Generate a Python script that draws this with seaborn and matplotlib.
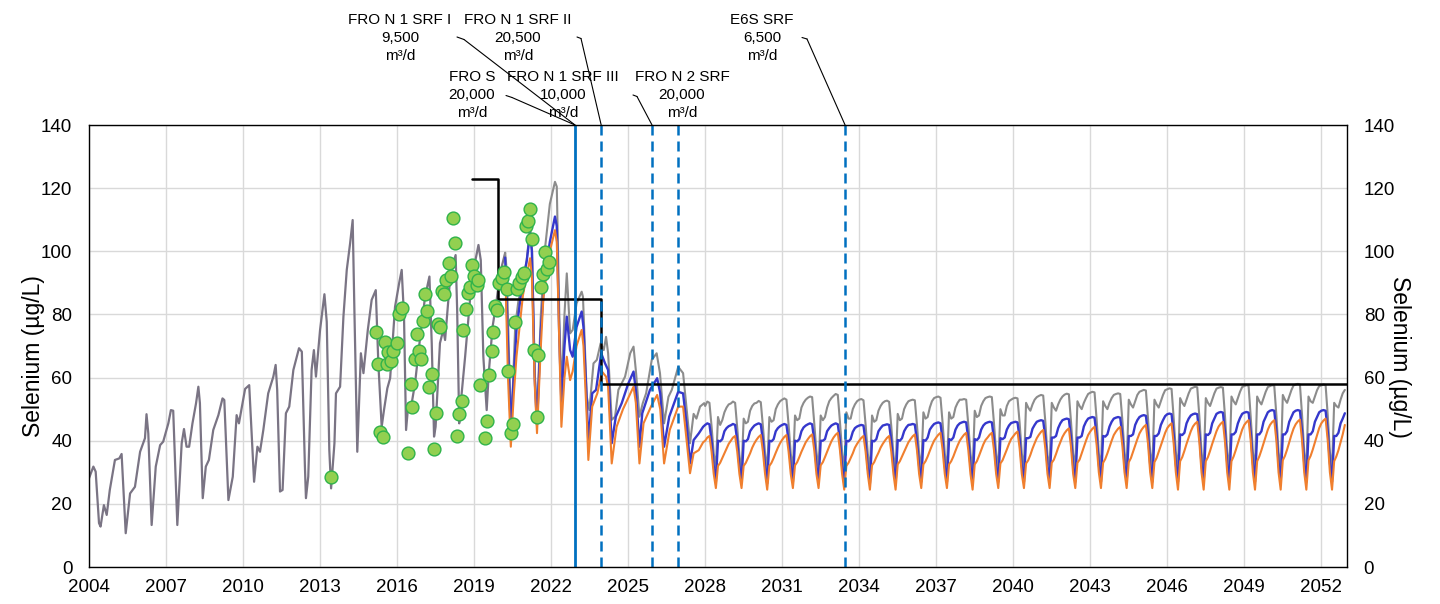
import numpy as np
import pandas as pd
import matplotlib
matplotlib.use('Agg')
import matplotlib.pyplot as plt
import seaborn as sns
from matplotlib.lines import Line2D

# 実測に合わせたモデル (2004-2020)
hist_year = [2004.00, 2004.17, 2004.26, 2004.39, 2004.45, 2004.58, 2004.69, 2004.81, 2005.01, 2005.18,
             2005.27, 2005.43, 2005.60, 2005.79, 2005.99, 2006.18, 2006.24, 2006.31, 2006.44, 2006.60,
             2006.77, 2006.89, 2007.09, 2007.19, 2007.28, 2007.44, 2007.61, 2007.70, 2007.80, 2007.90,
             2008.03, 2008.17, 2008.26, 2008.32, 2008.43, 2008.55, 2008.67, 2008.84, 2009.04, 2009.20,
             2009.27, 2009.43, 2009.60, 2009.75, 2009.84, 2010.08, 2010.24, 2010.43, 2010.56, 2010.66,
             2010.79, 2010.98, 2011.18, 2011.27, 2011.33, 2011.44, 2011.54, 2011.67, 2011.80, 2011.96,
             2012.18, 2012.29, 2012.41, 2012.45, 2012.54, 2012.67, 2012.76, 2012.84, 2013.00, 2013.17,
             2013.26, 2013.36, 2013.43, 2013.56, 2013.62, 2013.78, 2013.91, 2014.04, 2014.17, 2014.27,
             2014.34, 2014.45, 2014.59, 2014.69, 2014.86, 2015.01, 2015.17, 2015.27, 2015.40, 2015.49,
             2015.62, 2015.73, 2015.92, 2016.08, 2016.18, 2016.27, 2016.35, 2016.44, 2016.57, 2016.70,
             2016.90, 2017.09, 2017.26, 2017.35, 2017.44, 2017.50, 2017.67, 2017.80, 2017.87, 2018.06,
             2018.19, 2018.28, 2018.34, 2018.42, 2018.48, 2018.65, 2018.84, 2019.00, 2019.17, 2019.26,
             2019.36, 2019.49, 2019.57, 2019.72, 2019.88, 2020.01, 2020.21]
hist_se = [28.1, 31.8, 30.2, 13.9, 12.8, 19.6, 16.5, 24.4, 33.9, 34.4,
           35.8, 10.7, 23.3, 25.4, 36.5, 40.8, 48.4, 42.3, 13.3, 31.8,
           38.6, 39.7, 45.5, 49.7, 49.5, 13.3, 39.2, 43.7, 38.1, 38.1,
           45.5, 51.9, 57.1, 51.9, 21.8, 31.8, 33.9, 43.4, 48.1, 53.4,
           52.9, 21.2, 28.6, 48.1, 45.5, 56.4, 57.6, 27.0, 38.1, 36.5,
           43.4, 55.0, 60.3, 64.0, 56.1, 23.9, 24.4, 48.7, 50.8, 62.4,
           69.3, 68.2, 31.8, 21.8, 28.6, 62.4, 68.7, 60.3, 75.1, 86.4,
           77.7, 37.1, 24.9, 39.2, 55.0, 57.1, 79.3, 94.1, 102.5, 109.9,
           80.3, 36.5, 67.7, 61.4, 75.1, 84.6, 87.7, 64.5, 44.4, 49.7,
           56.6, 59.8, 82.4, 89.9, 94.1, 79.3, 43.4, 51.9, 51.9, 58.2,
           72.9, 85.6, 92.0, 70.9, 41.3, 44.4, 70.9, 75.1, 71.9, 90.9,
           96.2, 98.8, 81.4, 45.5, 51.9, 66.6, 84.6, 95.1, 102.0, 97.2,
           66.6, 49.7, 61.4, 76.1, 84.6, 93.0, 99.5]

# 予測 (2020-2027) : グレー / 青 / オレンジ
gray_year = [2020.21, 2020.27, 2020.40, 2020.46, 2020.60, 2020.73, 2020.85, 2021.05, 2021.18, 2021.26,
             2021.36, 2021.45, 2021.60, 2021.75, 2021.95, 2022.15, 2022.22, 2022.32, 2022.40, 2022.52,
             2022.61, 2022.74, 2022.84, 2022.99, 2023.19, 2023.24, 2023.39, 2023.49, 2023.65, 2023.78,
             2023.93, 2024.05, 2024.14, 2024.22, 2024.36, 2024.49, 2024.62, 2024.88, 2025.08, 2025.21,
             2025.31, 2025.44, 2025.57, 2025.70, 2025.92, 2026.11, 2026.24, 2026.40, 2026.57, 2026.70,
             2026.95, 2027.14, 2027.27, 2027.41, 2027.55, 2027.66, 2027.80, 2027.96]
gray_se = [99.5, 94.0, 55.0, 46.6, 76.1, 84.6, 88.0, 97.2, 108.0, 100.0,
           62.0, 47.6, 80.0, 100.0, 115.0, 122.0, 120.5, 79.3, 55.0, 80.0,
           93.0, 74.0, 75.1, 83.5, 87.2, 85.6, 53.9, 49.7, 64.5, 65.6,
           70.9, 68.7, 72.9, 67.7, 46.6, 47.6, 56.1, 60.3, 67.7, 69.8,
           61.4, 47.6, 51.9, 55.0, 65.6, 67.7, 61.4, 45.5, 53.9, 56.1,
           63.4, 61.4, 50.8, 39.2, 48.5, 47.0, 50.8, 51.9]

blue_year = [2020.21, 2020.40, 2020.44, 2020.65, 2020.85, 2021.05, 2021.18, 2021.25, 2021.36, 2021.45,
             2021.60, 2021.75, 2021.95, 2022.15, 2022.22, 2022.32, 2022.40, 2022.52, 2022.61, 2022.74,
             2022.84, 2022.99, 2023.19, 2023.26, 2023.40, 2023.45, 2023.60, 2023.75, 2023.95, 2024.10,
             2024.22, 2024.36, 2024.52, 2024.75, 2025.00, 2025.21, 2025.30, 2025.44, 2025.55, 2025.85,
             2026.13, 2026.25, 2026.40, 2026.60, 2026.95, 2027.14, 2027.28, 2027.41, 2027.55, 2027.75,
             2027.92]
blue_se = [98.0, 50.0, 45.5, 75.0, 88.0, 97.0, 105.7, 100.0, 60.0, 45.0,
           75.0, 92.0, 103.0, 111.0, 108.0, 72.0, 52.0, 70.0, 79.3, 68.7,
           66.6, 76.0, 80.9, 76.0, 50.0, 39.2, 55.0, 56.1, 67.7, 64.5,
           62.4, 39.2, 47.6, 51.9, 58.0, 61.9, 56.0, 38.1, 48.7, 56.1,
           59.8, 55.0, 38.1, 47.6, 55.5, 55.0, 45.0, 32.8, 40.2, 42.3,
           44.4]

orange_year = [2020.21, 2020.32, 2020.43, 2020.55, 2020.65, 2020.90, 2021.18, 2021.25, 2021.36, 2021.45,
               2021.60, 2021.70, 2021.95, 2022.15, 2022.22, 2022.32, 2022.40, 2022.52, 2022.61, 2022.74,
               2022.84, 2022.99, 2023.19, 2023.26, 2023.40, 2023.45, 2023.60, 2023.80, 2023.98, 2024.14,
               2024.22, 2024.36, 2024.55, 2024.80, 2025.21, 2025.30, 2025.44, 2025.60, 2025.90, 2026.13,
               2026.25, 2026.40, 2026.62, 2026.95, 2027.14, 2027.28, 2027.41, 2027.55, 2027.75, 2027.92]
orange_se = [95.0, 60.0, 38.1, 55.0, 66.6, 86.0, 97.8, 92.0, 58.0, 42.4,
             70.0, 85.6, 100.0, 106.7, 103.0, 70.0, 44.4, 60.0, 66.6, 59.2,
             62.0, 70.0, 75.1, 70.0, 45.0, 33.9, 50.8, 55.0, 61.9, 60.3,
             57.0, 32.8, 44.4, 50.0, 57.1, 52.0, 32.8, 45.5, 51.0, 54.5,
             50.0, 32.8, 43.4, 50.8, 50.8, 40.0, 29.7, 36.0, 37.0, 39.5]

# 2028-2052 の月別値 (1月-12月)
fut_years = list(range(2028, 2053))
gray_month = [
    [51.0, 52.4, 52.0, 44.5, 36.0, 31.5, 47.5, 45.0, 46.5, 49.0, 50.5, 51.5],
    [51.8, 52.4, 52.0, 44.0, 35.5, 30.5, 47.0, 45.5, 46.0, 49.5, 51.0, 51.8],
    [52.0, 52.6, 52.2, 44.5, 36.0, 30.8, 47.5, 46.0, 46.5, 50.0, 51.5, 52.5],
    [53.0, 53.4, 53.0, 45.0, 36.0, 31.0, 48.0, 46.5, 47.0, 50.5, 52.0, 53.0],
    [53.6, 54.0, 53.8, 45.5, 36.5, 31.0, 48.0, 46.5, 47.5, 50.5, 52.5, 53.5],
    [54.2, 54.8, 54.5, 46.0, 36.5, 30.5, 49.0, 47.0, 47.0, 50.0, 51.5, 52.5],
    [53.0, 53.2, 52.8, 45.0, 36.0, 30.5, 48.0, 46.0, 46.5, 49.5, 51.0, 52.0],
    [52.5, 52.7, 52.3, 44.5, 35.5, 30.5, 48.5, 46.5, 47.0, 50.0, 51.5, 52.5],
    [52.8, 53.0, 52.8, 45.0, 36.0, 31.0, 49.0, 47.0, 47.5, 50.5, 52.5, 53.5],
    [53.8, 54.0, 53.6, 45.5, 36.0, 31.0, 49.0, 47.0, 47.5, 50.5, 52.0, 53.0],
    [53.0, 53.2, 53.0, 45.0, 36.0, 30.5, 49.5, 47.5, 48.0, 51.0, 52.5, 53.5],
    [53.8, 54.0, 53.8, 45.5, 36.0, 31.0, 50.0, 48.0, 48.0, 51.0, 52.5, 53.0],
    [53.4, 53.6, 53.4, 45.5, 36.0, 31.5, 52.0, 50.5, 49.5, 51.5, 53.0, 53.8],
    [54.2, 54.5, 54.3, 46.0, 35.5, 31.5, 52.0, 50.5, 49.5, 51.5, 53.0, 54.0],
    [54.6, 54.9, 54.7, 46.0, 36.0, 31.5, 52.5, 51.0, 50.0, 52.0, 53.5, 54.8],
    [55.2, 55.5, 55.3, 46.5, 36.0, 31.5, 52.5, 51.0, 50.0, 52.0, 53.5, 54.5],
    [54.8, 55.0, 54.8, 46.5, 36.5, 31.5, 53.0, 51.5, 50.5, 52.5, 54.5, 55.5],
    [55.8, 56.1, 55.9, 47.0, 36.5, 31.5, 53.0, 51.5, 50.5, 52.5, 54.5, 56.0],
    [56.3, 56.6, 56.4, 47.0, 36.5, 31.0, 53.5, 52.0, 51.0, 53.0, 55.0, 56.5],
    [56.8, 57.1, 56.9, 47.5, 36.5, 31.0, 53.5, 52.0, 51.0, 53.0, 55.0, 56.5],
    [56.8, 57.0, 56.8, 47.5, 36.5, 31.0, 54.0, 52.5, 51.5, 53.5, 55.5, 57.0],
    [57.3, 57.6, 57.4, 47.5, 36.5, 31.0, 54.0, 52.5, 51.5, 53.5, 55.5, 57.0],
    [57.3, 57.6, 57.4, 48.0, 36.5, 31.0, 54.5, 53.0, 52.0, 54.0, 56.0, 57.5],
    [57.8, 58.0, 57.8, 48.0, 36.5, 31.0, 54.0, 52.5, 52.0, 54.0, 56.0, 57.3],
    [57.5, 57.8, 57.6, 48.0, 36.5, 31.0, 52.0, 51.0, 50.5, 53.0, 55.0, 56.1],
]
blue_month = [
    [45.0, 45.5, 45.2, 40.0, 32.0, 27.0, 40.0, 39.8, 40.5, 43.0, 44.0, 44.6],
    [44.9, 45.3, 45.0, 40.0, 32.0, 27.0, 40.0, 39.8, 40.5, 43.0, 44.0, 44.8],
    [45.2, 45.5, 45.2, 40.0, 32.0, 26.5, 40.0, 39.8, 40.5, 43.0, 44.0, 44.6],
    [45.0, 45.3, 45.0, 40.0, 32.0, 27.0, 40.0, 39.8, 40.5, 43.0, 44.2, 44.8],
    [45.2, 45.5, 45.2, 40.0, 32.0, 27.0, 40.0, 40.0, 40.5, 43.0, 44.0, 44.8],
    [45.2, 45.5, 45.2, 40.0, 32.0, 26.5, 40.0, 39.8, 40.5, 42.8, 44.0, 44.5],
    [44.8, 45.0, 44.8, 39.5, 31.5, 26.5, 40.0, 39.8, 40.5, 43.0, 44.0, 44.8],
    [45.0, 45.2, 45.0, 40.0, 32.0, 26.5, 40.2, 40.0, 40.8, 43.0, 44.2, 45.0],
    [45.1, 45.3, 45.1, 40.0, 32.0, 27.0, 40.2, 40.0, 41.0, 43.5, 44.5, 45.3],
    [45.6, 45.8, 45.5, 40.0, 32.0, 27.0, 40.5, 40.2, 41.0, 43.5, 44.8, 45.5],
    [45.8, 46.0, 45.8, 40.5, 32.0, 26.5, 40.5, 40.2, 41.0, 43.5, 44.8, 45.5],
    [45.8, 46.0, 45.8, 40.5, 32.0, 27.0, 40.8, 40.5, 41.0, 43.5, 44.8, 45.6],
    [45.8, 46.0, 45.8, 40.5, 32.0, 27.0, 40.8, 40.8, 41.2, 43.8, 45.0, 46.0],
    [46.3, 46.5, 46.3, 41.0, 32.0, 27.0, 41.0, 41.0, 41.5, 44.0, 45.5, 46.5],
    [46.8, 47.0, 46.8, 41.0, 32.0, 27.0, 41.0, 41.0, 41.5, 44.5, 46.0, 47.0],
    [47.3, 47.5, 47.3, 41.5, 32.5, 27.0, 41.5, 41.3, 42.0, 44.5, 46.0, 47.0],
    [47.3, 47.5, 47.3, 41.5, 32.5, 27.0, 41.5, 41.5, 42.0, 45.0, 46.5, 47.5],
    [47.9, 48.1, 47.9, 42.0, 32.5, 27.0, 41.5, 41.5, 42.3, 45.0, 46.5, 47.8],
    [48.4, 48.6, 48.4, 42.0, 32.5, 27.0, 42.0, 41.8, 42.5, 45.5, 47.0, 48.0],
    [48.4, 48.6, 48.4, 42.0, 32.5, 27.0, 42.0, 41.8, 42.5, 45.5, 47.0, 48.5],
    [48.9, 49.1, 48.9, 42.5, 33.0, 27.0, 42.0, 42.0, 42.8, 45.5, 47.2, 48.5],
    [48.9, 49.1, 48.9, 42.5, 33.0, 27.0, 42.0, 42.0, 43.0, 46.0, 47.5, 49.0],
    [49.5, 49.7, 49.5, 43.0, 33.0, 27.0, 42.0, 42.0, 43.0, 46.0, 47.5, 49.0],
    [49.5, 49.7, 49.5, 43.0, 33.0, 27.0, 42.0, 42.0, 43.0, 46.0, 47.5, 49.0],
    [49.5, 49.7, 49.5, 43.0, 33.0, 27.0, 41.5, 41.5, 42.5, 45.5, 47.0, 48.7],
]
orange_month = [
    [40.0, 41.0, 41.5, 36.5, 29.5, 25.0, 32.0, 33.0, 34.5, 36.0, 37.5, 39.0],
    [40.0, 41.0, 41.5, 36.5, 29.5, 25.0, 32.0, 33.0, 34.5, 36.0, 37.8, 39.2],
    [40.3, 41.2, 41.8, 36.5, 29.5, 24.5, 32.0, 33.0, 34.5, 36.2, 37.8, 39.2],
    [40.3, 41.2, 41.8, 36.5, 29.5, 25.0, 32.2, 33.2, 34.8, 36.5, 38.0, 39.5],
    [40.5, 41.4, 42.0, 37.0, 29.5, 25.0, 32.2, 33.2, 34.8, 36.5, 38.2, 39.8],
    [41.0, 41.9, 42.5, 37.0, 29.5, 24.5, 32.0, 33.0, 34.5, 36.0, 37.8, 39.0],
    [40.0, 40.9, 41.5, 36.5, 29.5, 24.5, 32.2, 33.2, 34.8, 36.2, 37.8, 39.0],
    [40.0, 40.9, 41.5, 36.5, 29.5, 24.5, 32.5, 33.5, 35.0, 36.5, 38.0, 39.5],
    [40.5, 41.4, 42.0, 37.0, 29.5, 25.0, 32.5, 33.5, 35.0, 36.8, 38.5, 40.0],
    [41.0, 41.9, 42.5, 37.0, 29.5, 25.0, 32.5, 33.5, 35.0, 36.8, 38.5, 40.0],
    [41.0, 41.9, 42.5, 37.0, 29.5, 24.5, 32.5, 33.5, 35.2, 37.0, 38.8, 40.2],
    [41.0, 41.9, 42.5, 37.0, 29.5, 25.0, 32.8, 33.8, 35.5, 37.2, 39.0, 40.5],
    [41.4, 42.3, 42.9, 37.5, 29.5, 25.0, 32.8, 33.8, 35.5, 37.5, 39.2, 40.8],
    [41.9, 42.8, 43.4, 37.5, 29.5, 25.0, 33.0, 34.0, 35.8, 37.8, 39.5, 41.2],
    [42.4, 43.3, 43.9, 38.0, 29.5, 25.0, 33.0, 34.0, 36.0, 38.0, 40.0, 41.8],
    [42.9, 43.8, 44.4, 38.5, 30.0, 25.0, 33.0, 34.2, 36.0, 38.0, 40.0, 41.8],
    [42.9, 43.8, 44.4, 38.5, 30.0, 25.0, 33.2, 34.5, 36.5, 38.5, 40.5, 42.3],
    [43.5, 44.4, 45.0, 39.0, 30.0, 25.0, 33.2, 34.5, 36.5, 38.5, 40.5, 42.5],
    [44.0, 44.9, 45.5, 39.0, 30.0, 24.5, 33.5, 34.8, 36.8, 39.0, 41.0, 43.0],
    [44.5, 45.4, 46.0, 39.5, 30.0, 24.5, 33.5, 34.8, 36.8, 39.0, 41.0, 43.0],
    [44.5, 45.4, 46.0, 39.5, 30.0, 24.5, 33.5, 35.0, 37.0, 39.2, 41.5, 43.5],
    [45.0, 45.9, 46.5, 40.0, 30.0, 24.5, 33.5, 35.0, 37.0, 39.2, 41.5, 43.5],
    [45.0, 45.9, 46.5, 40.0, 30.0, 24.5, 33.8, 35.2, 37.2, 39.5, 41.8, 43.8],
    [45.2, 46.1, 46.7, 40.0, 30.0, 24.5, 33.8, 35.2, 37.2, 39.5, 41.8, 44.0],
    [45.5, 46.4, 47.0, 40.0, 30.0, 24.5, 33.5, 35.0, 37.0, 39.5, 42.0, 45.0],
]

# 実測値
obs_year = [2013.43, 2015.18, 2015.25, 2015.34, 2015.44, 2015.53, 2015.60, 2015.66, 2015.76, 2015.85,
            2016.01, 2016.09, 2016.19, 2016.44, 2016.53, 2016.60, 2016.68, 2016.77, 2016.86, 2016.94,
            2017.00, 2017.09, 2017.18, 2017.26, 2017.35, 2017.43, 2017.50, 2017.58, 2017.67, 2017.75,
            2017.84, 2017.91, 2018.01, 2018.09, 2018.17, 2018.26, 2018.35, 2018.42, 2018.51, 2018.58,
            2018.67, 2018.75, 2018.84, 2018.92, 2019.00, 2019.10, 2019.14, 2019.23, 2019.43, 2019.49,
            2019.59, 2019.68, 2019.75, 2019.82, 2019.91, 2019.98, 2020.07, 2020.17, 2020.27, 2020.33,
            2020.44, 2020.50, 2020.60, 2020.69, 2020.76, 2020.85, 2020.95, 2021.01, 2021.09, 2021.18,
            2021.26, 2021.34, 2021.44, 2021.50, 2021.60, 2021.67, 2021.76, 2021.84, 2021.92]
obs_se = [28.6, 74.3, 64.2, 42.7, 41.3, 71.2, 64.2, 68.0, 65.3, 68.5,
          70.9, 80.0, 82.1, 36.0, 58.0, 50.6, 65.9, 73.7, 68.5, 65.9,
          78.0, 86.4, 81.1, 57.1, 61.0, 37.3, 48.7, 76.9, 75.9, 87.5,
          86.5, 90.9, 96.4, 92.2, 110.7, 102.7, 41.5, 48.4, 52.6, 75.1,
          81.7, 86.7, 88.8, 95.7, 92.3, 89.3, 90.9, 57.7, 40.8, 46.3,
          60.7, 68.4, 74.5, 82.7, 81.4, 89.9, 91.4, 93.5, 88.0, 62.0,
          42.3, 45.3, 77.6, 88.0, 89.9, 91.8, 93.0, 108.1, 109.6, 113.4,
          103.9, 68.7, 47.6, 67.2, 88.6, 92.8, 99.7, 94.4, 96.5]

# 水質目標 (段階的)
target_year = [2018.92, 2019.92, 2023.95, 2053.0]
target_se = [123, 85, 58, 58]

# 処理施設の稼働時期
plant_year = [2022.93, 2023.95, 2025.93, 2026.95, 2033.45]

# 月別データを時系列に
fut_t = [y + m / 12 for y in fut_years for m in range(12)]
gray_t = gray_year + fut_t
gray_v = gray_se + [v for row in gray_month for v in row]
blue_t = blue_year + fut_t
blue_v = blue_se + [v for row in blue_month for v in row]
orange_t = orange_year + fut_t
orange_v = orange_se + [v for row in orange_month for v in row]

sns.set_style('whitegrid')
plt.rcParams['font.family'] = ['Liberation Sans', 'DejaVu Sans']
plt.rcParams['text.color'] = 'black'
plt.rcParams['xtick.color'] = 'black'
plt.rcParams['ytick.color'] = 'black'

fig = plt.figure(figsize=(14.4, 6.04), dpi=100)
ax = fig.add_axes([89 / 1440, 37 / 604, 1258 / 1440, 442 / 604])

sns.lineplot(x=hist_year, y=hist_se, ax=ax, color='#7a7484', lw=1.6, estimator=None, sort=False)
sns.lineplot(x=gray_t, y=gray_v, ax=ax, color='#8c8c8c', lw=1.5, estimator=None, sort=False)
sns.lineplot(x=blue_t, y=blue_v, ax=ax, color='#3538cc', lw=1.7, estimator=None, sort=False)
sns.lineplot(x=orange_t, y=orange_v, ax=ax, color='#f07f2e', lw=1.5, estimator=None, sort=False)

sns.lineplot(x=target_year, y=target_se, ax=ax, color='black', lw=1.8,
             drawstyle='steps-post', estimator=None, sort=False)

ax.axvline(plant_year[0], color='#0070c0', lw=2)
for yr in plant_year[1:]:
    ax.axvline(yr, color='#0070c0', lw=1.8, ls=(0, (4, 2.4)))

sns.scatterplot(x=obs_year, y=obs_se, ax=ax, s=85, color='#92d050',
                edgecolor='#2fb34a', linewidth=1, zorder=6)

ax.set_xlim(2004, 2053)
ax.set_ylim(0, 140)
ax.set_xticks(range(2004, 2053, 3))
ax.set_yticks(range(0, 141, 20))
ax.grid(True, color='#d9d9d9', lw=1)
ax.tick_params(axis='both', length=0, labelsize=13.5, labelcolor='black')
ax.tick_params(axis='x', pad=9)
ax.tick_params(axis='y', pad=12)
for s in ax.spines.values():
    s.set_color('black')
    s.set_linewidth(1)

ax2 = ax.twinx()
ax2.set_ylim(0, 140)
ax2.set_yticks(range(0, 141, 20))
ax2.grid(False)
ax2.tick_params(axis='y', length=0, labelsize=13.5, pad=12, labelcolor='black')
for s in ax2.spines.values():
    s.set_visible(False)

fig.text(34 / 1440, 1 - 356 / 604, 'Selenium (µg/L)', rotation=90, ha='center', va='center', fontsize=16.5)
fig.text(1399 / 1440, 1 - 357 / 604, 'Selenium (µg/L)', rotation=270, ha='center', va='center', fontsize=16.5)

# 施設ラベル (中心位置 px) と引き出し線
labels = [
    ('FRO N 1 SRF I\n9,500\nm³/d', 400, 38),
    ('FRO N 1 SRF II\n20,500\nm³/d', 518, 38),
    ('E6S SRF\n6,500\nm³/d', 762, 38),
    ('FRO S\n20,000\nm³/d', 472, 95),
    ('FRO N 1 SRF III\n10,000\nm³/d', 563, 95),
    ('FRO N 2 SRF\n20,000\nm³/d', 682, 95),
]
for txt, px, py in labels:
    fig.text(px / 1440, 1 - py / 604, txt, ha='center', va='center', fontsize=11, linespacing=1.38)

leaders = [
    ((457, 37), (464, 39.5), plant_year[0]),
    ((506, 95.5), (512, 97.5), plant_year[0]),
    ((577, 37), (581, 38.5), plant_year[1]),
    ((633, 95), (637, 96.5), plant_year[2]),
    ((802, 37.5), (807, 39), plant_year[4]),
]
for (sx, sy), (bx, by), yr in leaders:
    fig.add_artist(Line2D([sx / 1440, bx / 1440], [1 - sy / 604, 1 - by / 604],
                          transform=fig.transFigure, color='black', lw=0.8))
    ax.annotate('', xy=(yr, 140), xycoords='data', xytext=(bx, 604 - by),
                textcoords='figure pixels', annotation_clip=False,
                arrowprops=dict(arrowstyle='-', color='black', lw=0.8, shrinkA=0, shrinkB=0))

fig.savefig('out.png', dpi=100)
